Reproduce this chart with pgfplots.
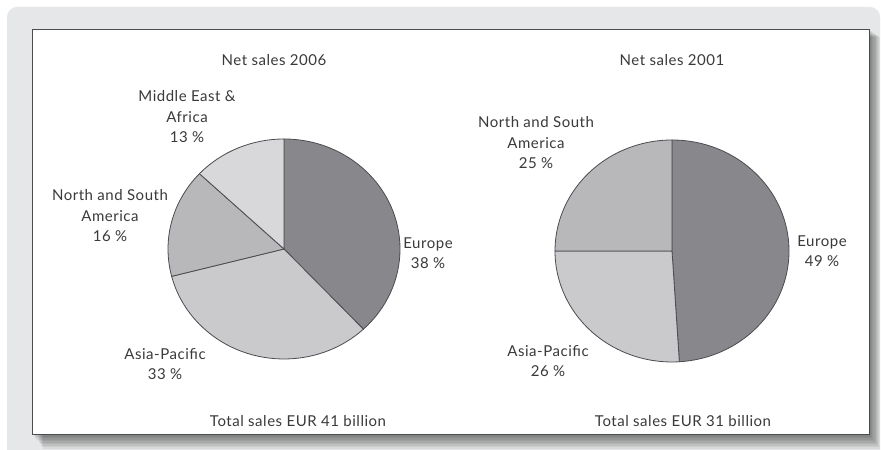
\documentclass[border=0pt]{standalone}
\usepackage{pgfplots}
\usepackage{pgfplotstable}
\pgfplotsset{compat=1.18}
\usepackage{fontspec}
\setmainfont{Lato}[LetterSpace=3.5]

\definecolor{euro}{HTML}{88878C}
\definecolor{asia}{HTML}{CACACC}
\definecolor{amer}{HTML}{B8B8BB}
\definecolor{mea}{HTML}{D8D8DA}
\definecolor{edge}{HTML}{4C4C50}
\definecolor{panel}{HTML}{E6E7E8}
\definecolor{txt}{HTML}{3A3A3A}

\tikzset{lbl/.style={font=\fontsize{15bp}{20.5bp}\selectfont, text=txt, align=center, inner sep=0pt}}

% net sales shares, clockwise from 12 o'clock
\pgfplotstableread{
region value color
Europe 38 euro
Asia 33 asia
Americas 16 amer
MEA 13 mea
}\salesnew
\pgfplotstableread{
region value color
Europe 49 euro
Asia 26 asia
Americas 25 amer
}\salesold

% #1 table, #2 #3 centre, #4 #5 radii (bp)
\newcommand{\drawpie}[5]{%
  \pgfplotstablegetrowsof{#1}%
  \pgfmathtruncatemacro\nrows{\pgfplotsretval-1}%
  \def\angstart{90}%
  \pgfplotsforeachungrouped \i in {0,...,\nrows}{%
    \pgfplotstablegetelem{\i}{value}\of{#1}\let\val\pgfplotsretval
    \pgfplotstablegetelem{\i}{color}\of{#1}\let\col\pgfplotsretval
    \pgfmathsetmacro\angend{\angstart-3.6*\val}%
    \edef\doslice{\noexpand\filldraw[fill=\col, draw=edge, line width=0.8bp]
      (axis cs:#2,#3) -- ++(\angstart:#4bp and #5bp)
      arc[start angle=\angstart, end angle=\angend, x radius=#4bp, y radius=#5bp] -- cycle;}%
    \doslice
    \let\angstart\angend
  }%
}

\begin{document}
\begin{tikzpicture}
\begin{axis}[
    scale only axis,
    width=881bp, height=450bp,
    xmin=0, xmax=881, ymin=0, ymax=450,
    hide axis, clip=false,
  ]
  \fill[white] (axis cs:0,0) rectangle (axis cs:881,450);
  \fill[panel, rounded corners=10bp] (axis cs:7,-20) rectangle (axis cs:880,443);
  % soft shadow
  \pgfplotsinvokeforeach{1,...,10}{
    \fill[black, opacity=0.06] (axis cs:{32+#1*1.1},{16-#1*1.5}) rectangle (axis cs:{869+#1*1.1},{421-#1*0.8});
  }
  \filldraw[fill=white, draw=edge, line width=0.8bp] (axis cs:32,16) rectangle (axis cs:869,421);

  \drawpie{\salesnew}{284}{201}{116}{110}
  \drawpie{\salesold}{672}{199}{117}{111}

  \node[lbl] at (axis cs:274,390) {Net sales 2006};
  \node[lbl] at (axis cs:672,390) {Net sales 2001};
  \node[lbl] at (axis cs:187,333) {Middle East \&\\Africa\\13 \%};
  \node[lbl] at (axis cs:110,234) {North and South\\America\\16 \%};
  \node[lbl] at (axis cs:428,197) {Europe\\38 \%};
  \node[lbl] at (axis cs:165,86) {Asia-Pacific\\33 \%};
  \node[lbl] at (axis cs:298,29) {Total sales EUR 41 billion};
  \node[lbl] at (axis cs:536,307) {North and South\\America\\25 \%};
  \node[lbl] at (axis cs:822,199) {Europe\\49 \%};
  \node[lbl] at (axis cs:548,89) {Asia-Pacific\\26 \%};
  \node[lbl] at (axis cs:683,29) {Total sales EUR 31 billion};
\end{axis}
\pgfresetboundingbox
\path (current axis.south west) rectangle (current axis.north east);
\end{tikzpicture}
\end{document}
